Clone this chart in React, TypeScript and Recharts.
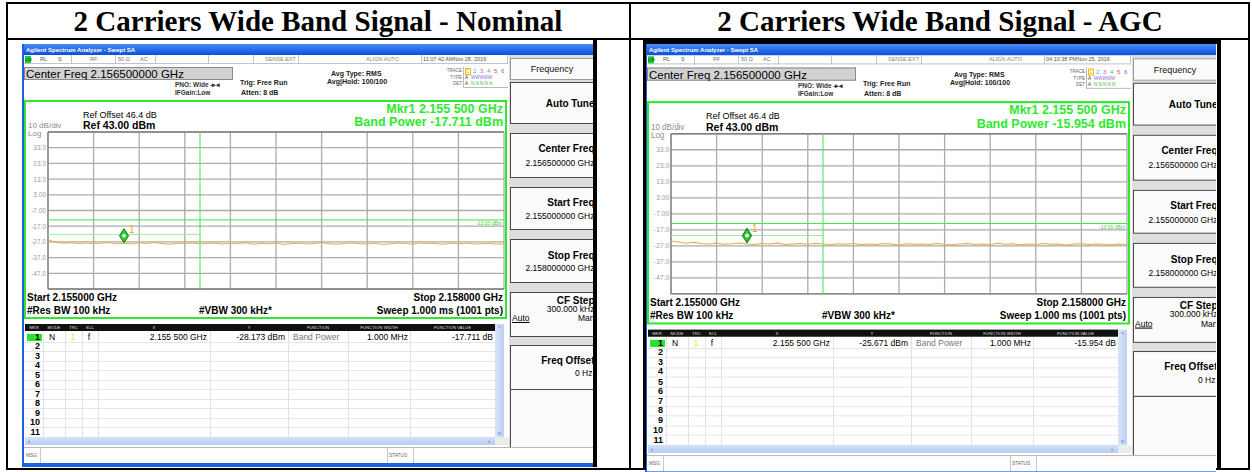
import React from 'react';
import { LineChart, Line, XAxis, YAxis, CartesianGrid, ReferenceLine, ReferenceDot } from 'recharts';

// Sweep span and graticule
const startGHz = 2.155;
const stopGHz = 2.158;
const freqTicks = [2.155, 2.1553, 2.1556, 2.1559, 2.1562, 2.1565, 2.1568, 2.1571, 2.1574, 2.1577, 2.158];
const levelTicks = [43, 33, 23, 13, 3, -7, -17, -27, -37, -47, -57];
const levelLabels = ['', '33.0', '23.0', '13.0', '3.00', '-7.00', '-17.0', '-27.0', '-37.0', '-47.0', ''];

// Trace 1 readings (dBm), 61 samples across the span
const nominalTrace = [
  -25.6, -27.2, -27.9, -27.6, -28.0, -27.7, -28.1, -27.8, -27.5, -28.2,
  -27.9, -28.3, -27.6, -28.0, -27.4, -28.1, -28.4, -27.9, -28.0, -27.7,
  -28.2, -28.0, -27.8, -28.3, -27.9, -28.1, -27.6, -28.5, -28.0, -28.2,
  -27.8, -28.6, -28.1, -27.9, -28.3, -28.0, -27.5, -28.2, -28.4, -28.0,
  -27.7, -28.1, -28.3, -27.9, -28.6, -28.2, -27.8, -28.0, -28.4, -27.7,
  -28.1, -28.0, -28.5, -27.9, -28.2, -27.8, -28.3, -28.1, -28.0, -28.4, -28.2,
];
const agcTrace = [
  -24.0, -24.6, -25.3, -24.8, -25.6, -25.9, -25.4, -26.0, -25.7, -25.2,
  -25.8, -26.1, -25.5, -25.9, -25.3, -26.2, -25.8, -25.6, -26.0, -25.4,
  -25.9, -26.3, -25.7, -26.0, -25.5, -26.1, -25.8, -26.2, -25.6, -25.9,
  -26.4, -25.7, -26.0, -25.8, -26.1, -25.5, -26.0, -26.3, -25.9, -25.6,
  -26.1, -25.8, -26.2, -25.4, -26.0, -25.7, -26.3, -25.9, -26.1, -25.6,
  -26.0, -25.8, -26.4, -25.9, -25.7, -26.2, -25.8, -26.0, -26.3, -25.9, -26.1,
];

// Marker 1 / band power measurement
const markerGHz = 2.1555;
const bandWidthMHz = 1.0;
const bandEdgeGHz = 2.156;
const limitDbm = -13;
const nominalMarkerDbm = -28.173;
const agcMarkerDbm = -25.671;
const nominalBandPower = -17.711;
const agcBandPower = -15.954;
const nominalBandBar = -22.2;
const agcBandBar = -20.6;

const FONT = '"Liberation Sans", Arial, Helvetica, sans-serif';
const GREEN = '#2ee82e';
const GRID = '#ababab';

function T({ x, y, s, b, c = '#000', a = 'left', ff = FONT, u, children }: any) {
  const lh = Math.round(s * 1.25);
  const tx = a === 'right' ? 'translateX(-100%)' : a === 'center' ? 'translateX(-50%)' : undefined;
  return (
    <div
      style={{
        position: 'absolute', left: x, top: y - lh / 2, lineHeight: `${lh}px`, fontSize: s,
        fontWeight: b ? 700 : 400, color: c, whiteSpace: 'nowrap', transform: tx, fontFamily: ff,
        textDecoration: u ? 'underline' : undefined,
      }}
    >
      {children}
    </div>
  );
}

function Box({ x, y, w, h, st }: any) {
  return <div style={{ position: 'absolute', left: x, top: y, width: w, height: h, boxSizing: 'border-box', ...st }} />;
}

function MarkerDiamond(props: any) {
  const { cx, cy } = props;
  const c = cy - 8;
  return (
    <g>
      <polygon
        points={`${cx},${c - 7} ${cx + 4.5},${c} ${cx},${c + 7} ${cx - 4.5},${c}`}
        fill="#2fd02f" stroke="#0b7a0b" strokeWidth={1}
      />
      <circle cx={cx} cy={c} r={1.8} fill="#fff" />
      <text x={cx + 5} y={c - 3} fontSize={10} fill="#f0a020" fontFamily={FONT}>1</text>
    </g>
  );
}

const statusDividers = [49, 93, 133, 186, 231, 276, 399];
const tableCols: [number, number, string][] = [
  [3, 21, 'MKR'], [21, 43, 'MODE'], [43, 60, 'TRC'], [60, 76, 'SCL'], [76, 188, 'X'],
  [188, 266, 'Y'], [266, 326, 'FUNCTION'], [326, 388, 'FUNCTION WIDTH'], [388, 473, 'FUNCTION VALUE'],
];
const markerRows = [1, 2, 3, 4, 5, 6, 7, 8, 9, 10, 11];

function MenuKey({ y, h }: any) {
  return <Box x={488} y={y} w={90} h={h} st={{ background: '#fbfbfb', border: '1.5px solid #4a4a4a' }} />;
}

function Screen({ trace, markerDbm, bandPower, bandBar, stamp, st }: any) {
  const data = trace.map((v: number, i: number) => ({
    f: startGHz + (i * (stopGHz - startGHz)) / (trace.length - 1),
    v,
  }));
  const rowY = (k: number) => 288.5 + 9.5 * k;
  const KR = 572.5;
  return (
    <div
      style={{
        position: 'absolute', left: 22, top: 44, width: 571, height: 423, overflow: 'hidden',
        background: '#fff', fontFamily: FONT, transformOrigin: '0 0', ...st,
      }}
    >
      {/* window title */}
      <Box x={0} y={0} w={571} h={11} st={{ background: 'linear-gradient(#4a8cf8,#0a4fd8)' }} />
      <T x={4} y={5.5} s={6} b c="#fff">Agilent Spectrum Analyzer - Swept SA</T>
      <Box x={0} y={0} w={2} h={423} st={{ background: '#1d5fe0' }} />

      {/* status strip */}
      <Box x={2} y={11} w={484} h={9} st={{ borderBottom: '1px solid #c4c4c4', borderRight: '1px solid #c4c4c4' }} />
      {statusDividers.map((d) => (
        <Box key={d} x={d} y={11} w={1} h={9} st={{ background: '#c4c4c4' }} />
      ))}
      <Box x={3} y={12} w={6} h={7} st={{ background: '#22cc22' }} />
      <T x={3.3} y={15.5} s={4} b c="#063">LXI</T>
      <T x={18} y={15.5} s={5.5} c="#555">RL</T>
      <T x={36} y={15.5} s={5.5} c="#555">S</T>
      <T x={68} y={15.5} s={5.5} c="#777">RF</T>
      <T x={96} y={15.5} s={5.5} c="#777">50 Ω</T>
      <T x={118} y={15.5} s={5.5} c="#777">AC</T>
      <T x={243} y={15.5} s={5.5} c="#888">SENSE:EXT</T>
      <T x={344} y={15.5} s={5.5} c="#888">ALIGN AUTO</T>
      <T x={401} y={15.5} s={5.5} c="#555">{stamp}</T>

      {/* settings */}
      <Box x={2} y={23} w={209} h={13} st={{ background: '#d2d2d2', border: '1px solid #8a8a8a' }} />
      <T x={4} y={29.5} s={11.5}>Center Freq 2.156500000 GHz</T>
      <T x={153} y={41} s={6.5} b c="#333">PNO: Wide  -▸◂</T>
      <T x={153} y={49} s={6.5} b c="#333">IFGain:Low</T>
      <T x={218} y={38} s={7} b c="#222">Trig: Free Run</T>
      <T x={219} y={48} s={7} b c="#222">Atten: 8 dB</T>
      <T x={309} y={29} s={7} b c="#222">Avg Type: RMS</T>
      <T x={305} y={37} s={7} b c="#222">Avg|Hold: 100/100</T>
      <Box x={441} y={23} w={45} h={21} st={{ borderLeft: '1px solid #bbb', borderBottom: '1px solid #bbb' }} />
      <T x={440} y={27} s={4.5} c="#666" a="right">TRACE</T>
      <T x={440} y={34} s={4.5} c="#666" a="right">TYPE</T>
      <T x={440} y={40} s={4.5} c="#666" a="right">DET</T>
      <Box x={442.5} y={23.5} w={6} h={7} st={{ border: '1px solid #f0c000' }} />
      <T x={444} y={27} s={6} c="#f0a000">1</T>
      <T x={451} y={27} s={6} c="#22b8e8">2</T>
      <T x={458} y={27} s={6} c="#e040e0">3</T>
      <T x={465} y={27} s={6} c="#38c838">4</T>
      <T x={472} y={27} s={6} c="#e8407a">5</T>
      <T x={479} y={27} s={6} c="#8a5cf0">6</T>
      <T x={443} y={34} s={4.5} c="#333">A</T>
      <T x={449} y={34} s={4.5} c="#9a6ad8">WWWWW</T>
      <T x={443} y={40} s={4.5} c="#333">A</T>
      <T x={449} y={40} s={4.5} c="#33bb33">N N N N N</T>

      {/* softkey menu */}
      <Box x={487} y={11} w={84} h={393} st={{ background: '#dedede' }} />
      <Box x={488} y={14} w={90} h={22} st={{ background: '#fbfbfb', border: '1px solid #9a9a9a' }} />
      <T x={530} y={25} s={9} a="center" c="#111">Frequency</T>
      <MenuKey y={38} h={42} />
      <T x={KR} y={59} s={10} b a="right">Auto Tune</T>
      <MenuKey y={89} h={45} />
      <T x={KR} y={104} s={10} b a="right">Center Freq</T>
      <T x={KR} y={119} s={8.5} a="right">2.156500000 GHz</T>
      <MenuKey y={143} h={43} />
      <T x={KR} y={158} s={10} b a="right">Start Freq</T>
      <T x={KR} y={172} s={8.5} a="right">2.155000000 GHz</T>
      <MenuKey y={195} h={44} />
      <T x={KR} y={211} s={10} b a="right">Stop Freq</T>
      <T x={KR} y={224} s={8.5} a="right">2.158000000 GHz</T>
      <MenuKey y={248} h={45} />
      <T x={KR} y={256} s={10} b a="right">CF Step</T>
      <T x={KR} y={265} s={8.5} a="right">300.000 kHz</T>
      <T x={490} y={274} s={8.5} u>Auto</T>
      <T x={KR} y={274} s={8.5} a="right">Man</T>
      <MenuKey y={301} h={45} />
      <T x={KR} y={316} s={10} b a="right">Freq Offset</T>
      <T x={570.5} y={329} s={8.5} a="right">0 Hz</T>
      <MenuKey y={345} h={60} />

      {/* measurement window */}
      <Box x={2} y={56} w={483} h={219} st={{ border: `2px solid ${GREEN}` }} />
      <T x={61} y={71} s={9}>Ref Offset 46.4 dB</T>
      <T x={61} y={81} s={10.5} b>Ref 43.00 dBm</T>
      <T x={6} y={81.5} s={8} c="#8c8c8c">10 dB/div</T>
      <T x={6} y={89.5} s={8} c="#8c8c8c">Log</T>
      <T x={481} y={65} s={12.5} b c={GREEN} a="right">Mkr1 2.155 500 GHz</T>
      <T x={481} y={77.5} s={12.5} b c={GREEN} a="right">{`Band Power ${bandPower.toFixed(3)} dBm`}</T>
      <T x={5} y={253} s={10} b>Start 2.155000 GHz</T>
      <T x={5} y={266} s={10} b>#Res BW 100 kHz</T>
      <T x={177} y={266} s={10} b>#VBW 300 kHz*</T>
      <T x={481} y={253} s={10} b a="right">Stop 2.158000 GHz</T>
      <T x={481} y={266} s={10} b a="right">Sweep  1.000 ms (1001 pts)</T>

      <div style={{ position: 'absolute', left: 2, top: 87 }}>
        <LineChart width={481} height={159} data={data} margin={{ top: 1, right: 1, bottom: 1, left: 0 }}>
          <CartesianGrid stroke={GRID} strokeWidth={1.3} vertical={false} />
          <XAxis
            type="number" dataKey="f" domain={[startGHz, stopGHz]} ticks={freqTicks} interval={0}
            height={0} tick={false} axisLine={false} tickLine={false} allowDataOverflow
          />
          <YAxis
            type="number" domain={[-57, 43]} ticks={levelTicks} interval={0} width={24}
            axisLine={false} tickLine={false} tickSize={0} tickMargin={2} allowDataOverflow
            tick={({ x, y, payload }: any) => (
              <text x={x} y={y} dy={2.4} textAnchor="end" fontSize={6.5} fill="#9a9a9a" fontFamily={FONT}>
                {levelLabels[levelTicks.indexOf(payload.value)]}
              </text>
            )}
          />
          {freqTicks.map((f) => (
            <ReferenceLine key={f} x={f} stroke={GRID} strokeWidth={1.3} />
          ))}
          <ReferenceLine y={43} stroke="#808080" strokeWidth={1.3} />
          <ReferenceLine y={-57} stroke="#808080" strokeWidth={1.3} />
          <ReferenceLine x={startGHz} stroke="#808080" strokeWidth={1.3} />
          <ReferenceLine
            y={limitDbm} stroke="#45e845" strokeWidth={1}
            label={{ value: '-13.00 dBm', position: 'insideTopRight', offset: 2, fontSize: 5, fill: '#3ad23a' }}
          />
          <ReferenceLine x={bandEdgeGHz} stroke="#45e845" strokeWidth={1} />
          <ReferenceLine
            segment={[{ x: startGHz, y: bandBar }, { x: bandEdgeGHz, y: bandBar }]}
            stroke="#9cec9c" strokeWidth={1}
          />
          <Line dataKey="v" stroke="#f2a640" strokeWidth={1} dot={false} isAnimationActive={false} />
          <ReferenceDot x={markerGHz} y={markerDbm} shape={<MarkerDiamond />} />
        </LineChart>
      </div>

      {/* marker table */}
      <Box x={2} y={278} w={485} h={126} st={{ background: '#fff' }} />
      {tableCols.map(([l, r, name]) => (
        <React.Fragment key={name}>
          <Box x={l} y={280} w={r - l - 0.5} h={7} st={{ background: '#111' }} />
          <div
            style={{
              position: 'absolute', left: l, top: 280, width: r - l, height: 7, lineHeight: '7px',
              fontSize: 4.3, color: '#ddd', textAlign: 'center', fontFamily: FONT, whiteSpace: 'nowrap',
            }}
          >
            {name}
          </div>
          <Box x={r - 0.5} y={287} w={0.8} h={106} st={{ background: '#e2e2e2' }} />
        </React.Fragment>
      ))}
      {markerRows.map((n, k) => (
        <React.Fragment key={n}>
          <Box x={3} y={rowY(k) + 9.2} w={470} h={0.6} st={{ background: '#e6e6e6' }} />
          <T x={18} y={rowY(k) + 4.8} s={9} b a="right">{n}</T>
        </React.Fragment>
      ))}
      <Box x={5} y={rowY(0) + 1} w={15} h={7.5} st={{ background: '#2ee02e' }} />
      <T x={18} y={rowY(0) + 4.8} s={9} b a="right">1</T>
      <T x={30} y={rowY(0) + 4.8} s={8.5} a="center">N</T>
      <T x={51} y={rowY(0) + 4.8} s={8.5} a="center" c="#f0e020">1</T>
      <T x={67} y={rowY(0) + 4.8} s={8.5} a="center">f</T>
      <T x={185} y={rowY(0) + 4.8} s={8.5} a="right">{`${markerGHz.toFixed(3)} ${(markerGHz * 1e6 % 1000).toFixed(0)} GHz`}</T>
      <T x={263} y={rowY(0) + 4.8} s={8.5} a="right">{`${markerDbm.toFixed(3)} dBm`}</T>
      <T x={271} y={rowY(0) + 4.8} s={8.5} c="#777">Band Power</T>
      <T x={386} y={rowY(0) + 4.8} s={8.5} a="right">{`${bandWidthMHz.toFixed(3)} MHz`}</T>
      <T x={471} y={rowY(0) + 4.8} s={8.5} a="right">{`${bandPower.toFixed(3)} dB`}</T>
      {/* scrollbars */}
      <Box x={473} y={280} w={9} h={113} st={{ background: 'linear-gradient(90deg,#d8e4f8,#bcd0f2)' }} />
      <T x={477.5} y={284} s={6} a="center" c="#4a6fc0">^</T>
      <T x={477.5} y={389} s={6} a="center" c="#4a6fc0">v</T>
      <Box x={3} y={393} w={470} h={8} st={{ background: 'linear-gradient(#d4e2f8,#b8cdf2)' }} />
      <T x={6} y={397} s={6} b c="#4a6fc0">‹</T>
      <T x={466} y={397} s={6} b c="#4a6fc0">›</T>
      <Box x={473} y={393} w={14} h={8} st={{ background: '#ececec' }} />

      {/* message line */}
      <Box x={2} y={403} w={569} h={17} st={{ background: '#fff', borderTop: '1px solid #b8b8b8' }} />
      <Box x={18} y={403} w={1} h={17} st={{ background: '#c8c8c8' }} />
      <T x={4} y={411.5} s={4.8} c="#666">MSG</T>
      <Box x={365} y={403} w={1} h={17} st={{ background: '#c8c8c8' }} />
      <Box x={391} y={403} w={1} h={17} st={{ background: '#c8c8c8' }} />
      <T x={367} y={411.5} s={4.8} c="#666">STATUS</T>
      <Box x={0} y={419} w={571} h={4} st={{ background: '#1d5fe0' }} />
    </div>
  );
}

export default function App() {
  return (
    <div style={{ position: 'absolute', left: 0, top: 0, width: 1252, height: 472, background: '#fff', overflow: 'hidden' }}>
      {/* table rules */}
      <Box x={6} y={2} w={1244} h={468} st={{ border: '2px solid #000' }} />
      <Box x={6} y={38} w={1244} h={2} st={{ background: '#000' }} />
      <Box x={629} y={2} w={2} h={468} st={{ background: '#000' }} />
      <T x={318} y={21} s={29} b a="center" ff='"Liberation Serif", "Times New Roman", serif'>
        2 Carriers Wide Band Signal - Nominal
      </T>
      <T x={940} y={21} s={29} b a="center" ff='"Liberation Serif", "Times New Roman", serif'>
        2 Carriers Wide Band Signal - AGC
      </T>

      <Screen
        trace={nominalTrace} markerDbm={nominalMarkerDbm} bandPower={nominalBandPower}
        bandBar={nominalBandBar} stamp="11:07:42 AMNov 28, 2016"
      />
      <Box x={593} y={40} w={4} h={427} st={{ background: '#000' }} />

      <Screen
        trace={agcTrace} markerDbm={agcMarkerDbm} bandPower={agcBandPower}
        bandBar={agcBandBar} stamp="04:10:38 PMNov 25, 2016"
        st={{ transform: 'translate(623px, 0px) scale(1, 1.02)' }}
      />
      <Box x={643} y={40} w={578} h={4} st={{ background: '#000' }} />
      <Box x={643} y={40} w={3} h={430} st={{ background: '#000' }} />
      <Box x={1217} y={40} w={4} h={430} st={{ background: '#000' }} />
    </div>
  );
}
